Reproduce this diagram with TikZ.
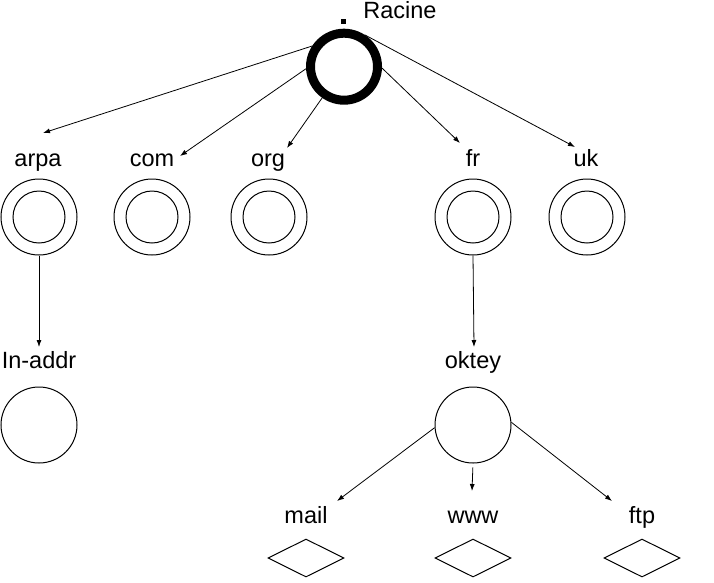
\documentclass[tikz,border=0pt]{standalone}
\usepackage{fontspec}
\setmainfont{Liberation Sans}
\usetikzlibrary{arrows.meta,shapes.geometric}
\begin{document}
\begin{tikzpicture}[x=1pt,y=-1pt,
  lbl/.style={anchor=base,inner sep=0pt,font=\fontsize{23.5}{28}\selectfont},
  ring/.style={circle,draw,line width=1pt,minimum size=76pt,inner sep=0pt,
    path picture={\draw[line width=1pt] (path picture bounding box.center) circle (26pt);}},
  plainc/.style={circle,draw,line width=1pt,minimum size=76pt,inner sep=0pt},
  leaf/.style={diamond,draw,line width=1pt,minimum width=76pt,minimum height=38pt,inner sep=0pt},
  arr/.style={-{Latex[length=7pt,width=5pt]},line width=0.8pt}]
\useasboundingbox (0,0) rectangle (714,582);
% root
\node[circle,draw,line width=9pt,minimum size=67pt,inner sep=0pt] (root) at (344,66.7) {};
\node[fill,minimum size=5pt,inner sep=0pt] (dot) at (343.5,21.5) {};
\node[lbl] (racine) at (400,18.5) {Racine};
% second level
\node[ring] (arpa) at (39,217) {};
\node[ring] (com) at (152,217) {};
\node[ring] (org) at (269,217) {};
\node[ring] (fr) at (473,217) {};
\node[ring] (uk) at (587,217) {};
\node[lbl] (arpalbl) at (38,166) {arpa};
\node[lbl] (comlbl) at (152,166) {com};
\node[lbl] (orglbl) at (268,166) {org};
\node[lbl] (frlbl) at (473,166) {fr};
\node[lbl] (uklbl) at (586,166) {uk};
% third level
\node[plainc] (inaddr) at (39,425) {};
\node[plainc] (oktey) at (473,425) {};
\node[lbl] (inaddrlbl) at (39,368) {In-addr};
\node[lbl] (okteylbl) at (473,368) {oktey};
% leaves
\node[leaf] (mail) at (306,558) {};
\node[leaf] (www) at (473,558) {};
\node[leaf] (ftp) at (642,558) {};
\node[lbl] (maillbl) at (306,523) {mail};
\node[lbl] (wwwlbl) at (473,523) {www};
\node[lbl] (ftplbl) at (642,523) {ftp};
% arrow tips
\coordinate (tarpa) at (43,133);
\coordinate (tcom) at (180,156);
\coordinate (torg) at (287,148);
\coordinate (tfr) at (460,143);
\coordinate (tuk) at (575,147);
\coordinate (tin) at (39,347);
\coordinate (tok) at (474,347);
\coordinate (tmail) at (337,501);
\coordinate (twww) at (472,491);
\coordinate (tftp) at (612,501);
% connectors
\draw[arr] (root.147) -- (tarpa);
\draw[arr] (root.183) -- (tcom);
\draw[arr] (root.235) -- (torg);
\draw[arr] (root.358) -- (tfr);
\draw[arr] (root.57) -- (tuk);
\draw[arr] (arpa.south) -- (tin);
\draw[arr] (fr.south) -- (tok);
\draw[arr] (oktey.184) -- (tmail);
\draw[arr,shorten <=4pt] (oktey.south) -- (twww);
\draw[arr] (oktey.4) -- (tftp);
\end{tikzpicture}
\end{document}
